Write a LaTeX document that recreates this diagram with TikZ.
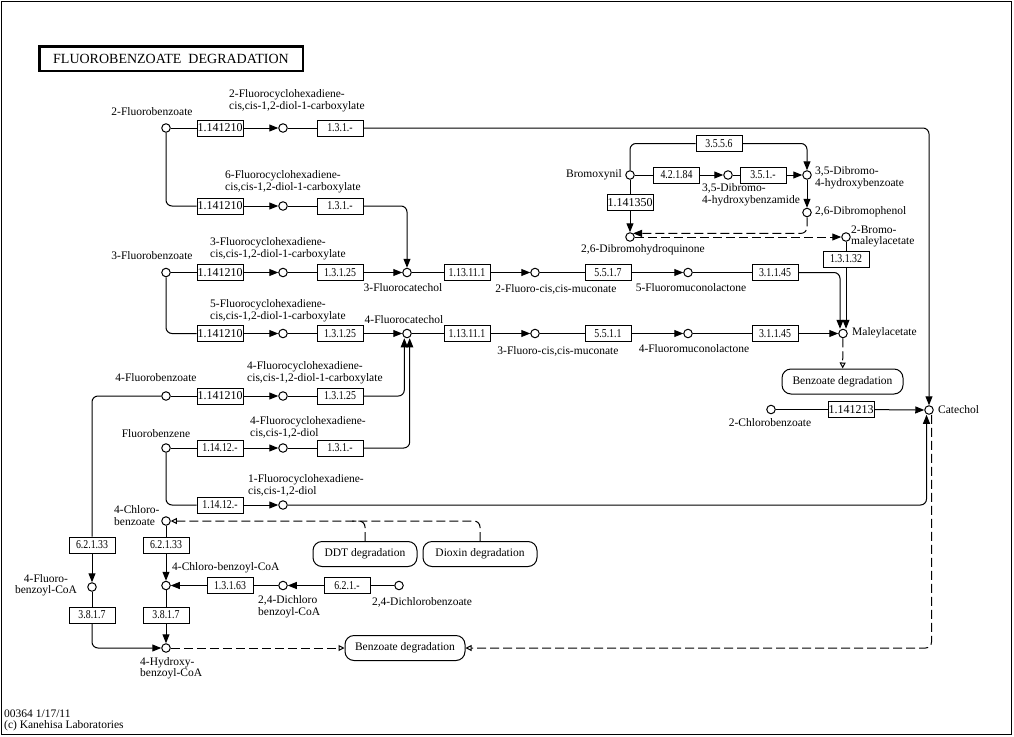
\documentclass[tikz,border=0pt]{standalone}
\usepackage{fontspec}
\setmainfont{Liberation Serif}
\newfontfamily\ecfamily[FakeStretch=0.82]{Liberation Serif}
\usetikzlibrary{arrows.meta}
\begin{document}
\begin{tikzpicture}[x=1pt,y=-1pt,
  every node/.style={font=\fontsize{11.5}{11.5}\selectfont, inner sep=0pt},
  cpd/.style={circle,draw,line width=1pt,minimum size=8.5pt,fill=white},
  ec/.style={draw,line width=1pt,minimum width=46pt,minimum height=16pt,fill=white,font=\ecfamily\fontsize{12}{12}\selectfont},
  ecn/.style={ec,font=\fontsize{12}{12}\selectfont},
  pw/.style={draw,line width=1pt,rounded corners=9pt,minimum height=25pt},
  lbl/.style={align=left},
  con/.style={line width=1pt},
  arr/.style={con,-{Triangle[length=9pt,width=7pt]}},
  hol/.style={con,-{Triangle[open,length=6pt,width=6pt]}},
  dsh/.style={dash pattern=on 9pt off 4pt},
  rc/.style={rounded corners=6pt}
]
\useasboundingbox (0,0) rectangle (1014,736);
\draw[line width=1pt] (1,1) rectangle (1011,734);

% title
\node[draw,line width=2.5pt,minimum width=263.5pt,minimum height=24.5pt,font=\fontsize{14}{14}\selectfont] (title) at (171,58.5) {FLUOROBENZOATE\ \ DEGRADATION};

% compounds
\node[cpd] (c2fb) at (166,128) {};
\node[cpd] (c2fcd) at (283,128) {};
\node[cpd] (c6fcd) at (283,206) {};
\node[cpd] (c3fb) at (166,272.5) {};
\node[cpd] (c3fcd) at (283,272.5) {};
\node[cpd] (c3fc) at (407,272.5) {};
\node[cpd] (c2fm) at (535,272.5) {};
\node[cpd] (c5fl) at (688,272.5) {};
\node[cpd] (c5fcd) at (283,333.5) {};
\node[cpd] (c4fc) at (407,333.5) {};
\node[cpd] (c3fm) at (535,333.5) {};
\node[cpd] (c4fl) at (688,333.5) {};
\node[cpd] (cmal) at (843,333.5) {};
\node[cpd] (c4fb) at (166,396) {};
\node[cpd] (c4fcd) at (283,396) {};
\node[cpd] (cfbz) at (166,448) {};
\node[cpd] (c4fcdl) at (283,448) {};
\node[cpd] (c1fcd) at (283,505) {};
\node[cpd] (c4cb) at (166,521) {};
\node[cpd] (c4cbc) at (166,585.5) {};
\node[cpd] (c24dcc) at (283,585.5) {};
\node[cpd] (c24db) at (399,585.5) {};
\node[cpd] (c4fbc) at (92,587) {};
\node[cpd] (c4hbc) at (166,648) {};
\node[cpd] (cbrx) at (630,175) {};
\node[cpd] (cdbam) at (728,175) {};
\node[cpd] (cdbhb) at (807,175) {};
\node[cpd] (cdbp) at (807,212.5) {};
\node[cpd] (cdbhq) at (630,237) {};
\node[cpd] (cbma) at (846,237) {};
\node[cpd] (ccat) at (929,410) {};
\node[cpd] (c2cb) at (771,409.5) {};

% enzymes
\node[ecn] (e1) at (220,128) {1.141210};
\node[ec] (e2) at (340,128) {1.3.1.-};
\node[ecn] (e3) at (220,206) {1.141210};
\node[ec] (e4) at (340,206) {1.3.1.-};
\node[ecn] (e5) at (220,272.5) {1.141210};
\node[ec] (e6) at (340,272.5) {1.3.1.25};
\node[ec] (e7) at (467,272.5) {1.13.11.1};
\node[ec] (e8) at (608,272.5) {5.5.1.7};
\node[ec] (e9) at (775,272.5) {3.1.1.45};
\node[ecn] (e10) at (220,333.5) {1.141210};
\node[ec] (e11) at (340,333.5) {1.3.1.25};
\node[ec] (e12) at (467,333.5) {1.13.11.1};
\node[ec] (e13) at (608,333.5) {5.5.1.1};
\node[ec] (e14) at (775,333.5) {3.1.1.45};
\node[ecn] (e15) at (220,396) {1.141210};
\node[ec] (e16) at (340,396) {1.3.1.25};
\node[ec] (e17) at (220,448) {1.14.12.-};
\node[ec] (e18) at (340,448) {1.3.1.-};
\node[ec] (e19) at (220,505) {1.14.12.-};
\node[ec] (e20) at (92,545) {6.2.1.33};
\node[ec] (e21) at (166,545) {6.2.1.33};
\node[ec] (e22) at (92,615) {3.8.1.7};
\node[ec] (e23) at (166,615) {3.8.1.7};
\node[ec] (e24) at (230,585.5) {1.3.1.63};
\node[ec] (e25) at (347,585.5) {6.2.1.-};
\node[ec] (e26) at (719,143.5) {3.5.5.6};
\node[ec] (e27) at (676.5,175) {4.2.1.84};
\node[ec] (e28) at (763,175) {3.5.1.-};
\node[ecn] (e29) at (630,202.5) {1.141350};
\node[ec] (e30) at (846,259) {1.3.1.32};
\node[ecn] (e31) at (851,409.5) {1.141213};

% pathway maps
\node[pw,minimum width=121pt] (pbd1) at (842.5,381.5) {Benzoate degradation};
\node[pw,minimum width=104pt] (pddt) at (365,554) {DDT degradation};
\node[pw,minimum width=114pt] (pdiox) at (480,554) {Dioxin degradation};
\node[pw,minimum width=120pt] (pbd2) at (405,648) {Benzoate degradation};

% labels
\node (l1) at (152,112) {2-Fluorobenzoate};
\node[lbl,anchor=west] (l2) at (229,100.5) {2-Fluorocyclohexadiene-\\cis,cis-1,2-diol-1-carboxylate};
\node[lbl,anchor=west] (l3) at (225,181.5) {6-Fluorocyclohexadiene-\\cis,cis-1,2-diol-1-carboxylate};
\node (l4) at (152,256) {3-Fluorobenzoate};
\node[lbl,anchor=west] (l5) at (210,248.5) {3-Fluorocyclohexadiene-\\cis,cis-1,2-diol-1-carboxylate};
\node (l6) at (403,288) {3-Fluorocatechol};
\node (l7) at (556,289) {2-Fluoro-cis,cis-muconate};
\node (l8) at (691,288) {5-Fluoromuconolactone};
\node[lbl,anchor=west] (l9) at (210,310.5) {5-Fluorocyclohexadiene-\\cis,cis-1,2-diol-1-carboxylate};
\node (l10) at (404,320) {4-Fluorocatechol};
\node (l11) at (558,351) {3-Fluoro-cis,cis-muconate};
\node (l12) at (694,349) {4-Fluoromuconolactone};
\node[anchor=west] (l13) at (852,332.5) {Maleylacetate};
\node (l14) at (156,378) {4-Fluorobenzoate};
\node[lbl,anchor=west] (l15) at (247,372.5) {4-Fluorocyclohexadiene-\\cis,cis-1,2-diol-1-carboxylate};
\node (l16) at (156,434) {Fluorobenzene};
\node[lbl,anchor=west] (l17) at (250,427.5) {4-Fluorocyclohexadiene-\\cis,cis-1,2-diol};
\node[lbl,anchor=west] (l18) at (248,485.5) {1-Fluorocyclohexadiene-\\cis,cis-1,2-diol};
\node[lbl,anchor=west] (l19) at (114,515.5) {4-Chloro-\\benzoate};
\node[anchor=west] (l20) at (172,568) {4-Chloro-benzoyl-CoA};
\node[align=center] (l21) at (46,585) {4-Fluoro-\\benzoyl-CoA};
\node[lbl,anchor=west] (l22) at (258,606.5) {2,4-Dichloro\\benzoyl-CoA};
\node (l23) at (422,602) {2,4-Dichlorobenzoate};
\node[lbl,anchor=west] (l24) at (140,668) {4-Hydroxy-\\benzoyl-CoA};
\node[anchor=east] (l25) at (622,175) {Bromoxynil};
\node[lbl,anchor=west] (l26) at (702,194.5) {3,5-Dibromo-\\4-hydroxybenzamide};
\node[lbl,anchor=west] (l27) at (815,177.5) {3,5-Dibromo-\\4-hydroxybenzoate};
\node[anchor=west] (l28) at (815,212) {2,6-Dibromophenol};
\node (l29) at (643,250) {2,6-Dibromohydroquinone};
\node[lbl,anchor=west] (l30) at (851,236.5) {2-Bromo-\\maleylacetate};
\node[anchor=west] (l31) at (938,410) {Catechol};
\node (l32) at (770,423) {2-Chlorobenzoate};
\node[lbl,anchor=west] (l33) at (4,720.5) {00364 1/17/11\\(c) Kanehisa Laboratories};

% row 1 and 2
\draw[con] (c2fb) -- (e1);
\draw[arr] (e1) -- (c2fcd);
\draw[con] (c2fcd) -- (e2);
\draw[arr,rc] (e2) -| (ccat);
\draw[con,rc] (c2fb) |- (e3);
\draw[arr] (e3) -- (c6fcd);
\draw[con] (c6fcd) -- (e4);
\draw[arr,rc] (e4) -| (c3fc);
% row 3
\draw[con] (c3fb) -- (e5);
\draw[arr] (e5) -- (c3fcd);
\draw[con] (c3fcd) -- (e6);
\draw[arr] (e6) -- (c3fc);
\draw[con] (c3fc) -- (e7);
\draw[arr] (e7) -- (c2fm);
\draw[con] (c2fm) -- (e8);
\draw[arr] (e8) -- (c5fl);
\draw[con] (c5fl) -- (e9);
\draw[arr,rc] (e9) -| ([xshift=-3pt]cmal.north);
% row 4
\draw[con,rc] (c3fb) |- (e10);
\draw[arr] (e10) -- (c5fcd);
\draw[con] (c5fcd) -- (e11);
\draw[arr] (e11) -- (c4fc);
\draw[con] (c4fc) -- (e12);
\draw[arr] (e12) -- (c3fm);
\draw[con] (c3fm) -- (e13);
\draw[arr] (e13) -- (c4fl);
\draw[con] (c4fl) -- (e14);
\draw[arr] (e14) -- (cmal);
\draw[con] (cbma) -- (e30);
\draw[arr] (e30) -- ([xshift=3pt]cmal.north);
\draw[hol,dsh] (cmal) -- (pbd1);
% rows 5-7
\draw[con] (c4fb) -- (e15);
\draw[arr] (e15) -- (c4fcd);
\draw[con] (c4fcd) -- (e16);
\draw[arr,rc] (e16) -| ([xshift=-2.7pt]c4fc.south);
\draw[con] (cfbz) -- (e17);
\draw[arr] (e17) -- (c4fcdl);
\draw[con] (c4fcdl) -- (e18);
\draw[arr,rc] (e18) -| ([xshift=2.7pt]c4fc.south);
\draw[con,rc] (cfbz) |- (e19);
\draw[arr] (e19) -- (c1fcd);
\draw[arr,rc] (c1fcd) -| ([xshift=-2.5pt]ccat.south);
\draw[con] (c2cb) -- (e31);
\draw[arr] (e31) -- (ccat);
\draw[hol,dsh,rc] ([xshift=2.5pt]ccat.south) |- (pbd2);
\draw[hol,dsh] (c4hbc) -- (pbd2);
% lower left
\draw[con,rc] (c4fb) -| (e20);
\draw[arr] (e20) -- (c4fbc);
\draw[con] (c4fbc) -- (e22);
\draw[arr,rc] (e22) |- (c4hbc);
\draw[con] (c4cb) -- (e21);
\draw[arr] (e21) -- (c4cbc);
\draw[con] (c4cbc) -- (e23);
\draw[arr] (e23) -- (c4hbc);
\draw[con] (c24db) -- (e25);
\draw[arr] (e25) -- (c24dcc);
\draw[con] (c24dcc) -- (e24);
\draw[arr] (e24) -- (c4cbc);
\draw[hol,dsh,rc] (pdiox) |- (c4cb);
\coordinate (jddt) at (352,521);
\draw[con,dsh,rc] (pddt) |- (jddt);
% bromoxynil
\draw[con] (cbrx) -- (e27);
\draw[arr] (e27) -- (cdbam);
\draw[con] (cdbam) -- (e28);
\draw[arr] (e28) -- (cdbhb);
\draw[con,rc] (cbrx) |- (e26);
\draw[arr,rc] (e26) -| (cdbhb);
\draw[con] (cbrx) -- (e29);
\draw[arr] (e29) -- (cdbhq);
\draw[arr] (cdbhb) -- (cdbp);
\draw[arr,dsh,rc] (cdbp) |- (cdbhq.50);
\draw[arr,dsh] (cdbhq) -- (cbma);
\end{tikzpicture}
\end{document}
